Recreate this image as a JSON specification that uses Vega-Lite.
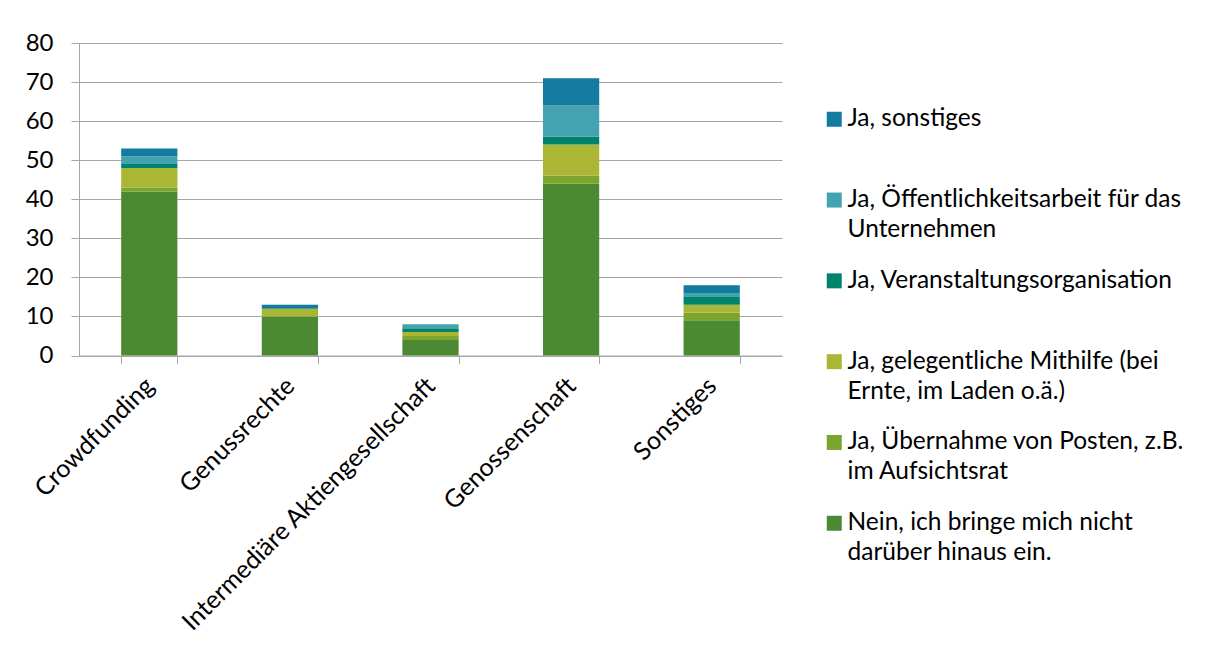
{
  "$schema": "https://vega.github.io/schema/vega-lite/v6.json",
  "width": 703,
  "height": 312.5,
  "autosize": {"type": "none"},
  "padding": {"left": 79, "top": 43, "right": 424, "bottom": 296},
  "background": "white",
  "data": {
    "values": [
      {"kategorie": "Crowdfunding", "antwort": "Nein, ich bringe mich nicht darüber hinaus ein.", "wert": 42},
      {"kategorie": "Crowdfunding", "antwort": "Ja, Übernahme von Posten, z.B. im Aufsichtsrat", "wert": 1},
      {"kategorie": "Crowdfunding", "antwort": "Ja, gelegentliche Mithilfe (bei Ernte, im Laden o.ä.)", "wert": 5},
      {"kategorie": "Crowdfunding", "antwort": "Ja, Veranstaltungsorganisation", "wert": 1},
      {"kategorie": "Crowdfunding", "antwort": "Ja, Öffentlichkeitsarbeit für das Unternehmen", "wert": 2},
      {"kategorie": "Crowdfunding", "antwort": "Ja, sonstiges", "wert": 2},
      {"kategorie": "Genussrechte", "antwort": "Nein, ich bringe mich nicht darüber hinaus ein.", "wert": 10},
      {"kategorie": "Genussrechte", "antwort": "Ja, Übernahme von Posten, z.B. im Aufsichtsrat", "wert": 0},
      {"kategorie": "Genussrechte", "antwort": "Ja, gelegentliche Mithilfe (bei Ernte, im Laden o.ä.)", "wert": 2},
      {"kategorie": "Genussrechte", "antwort": "Ja, Veranstaltungsorganisation", "wert": 0},
      {"kategorie": "Genussrechte", "antwort": "Ja, Öffentlichkeitsarbeit für das Unternehmen", "wert": 0},
      {"kategorie": "Genussrechte", "antwort": "Ja, sonstiges", "wert": 1},
      {"kategorie": "Intermediäre Aktiengesellschaft", "antwort": "Nein, ich bringe mich nicht darüber hinaus ein.", "wert": 4},
      {"kategorie": "Intermediäre Aktiengesellschaft", "antwort": "Ja, Übernahme von Posten, z.B. im Aufsichtsrat", "wert": 1},
      {"kategorie": "Intermediäre Aktiengesellschaft", "antwort": "Ja, gelegentliche Mithilfe (bei Ernte, im Laden o.ä.)", "wert": 1},
      {"kategorie": "Intermediäre Aktiengesellschaft", "antwort": "Ja, Veranstaltungsorganisation", "wert": 1},
      {"kategorie": "Intermediäre Aktiengesellschaft", "antwort": "Ja, Öffentlichkeitsarbeit für das Unternehmen", "wert": 1},
      {"kategorie": "Intermediäre Aktiengesellschaft", "antwort": "Ja, sonstiges", "wert": 0},
      {"kategorie": "Genossenschaft", "antwort": "Nein, ich bringe mich nicht darüber hinaus ein.", "wert": 44},
      {"kategorie": "Genossenschaft", "antwort": "Ja, Übernahme von Posten, z.B. im Aufsichtsrat", "wert": 2},
      {"kategorie": "Genossenschaft", "antwort": "Ja, gelegentliche Mithilfe (bei Ernte, im Laden o.ä.)", "wert": 8},
      {"kategorie": "Genossenschaft", "antwort": "Ja, Veranstaltungsorganisation", "wert": 2},
      {"kategorie": "Genossenschaft", "antwort": "Ja, Öffentlichkeitsarbeit für das Unternehmen", "wert": 8},
      {"kategorie": "Genossenschaft", "antwort": "Ja, sonstiges", "wert": 7},
      {"kategorie": "Sonstiges", "antwort": "Nein, ich bringe mich nicht darüber hinaus ein.", "wert": 9},
      {"kategorie": "Sonstiges", "antwort": "Ja, Übernahme von Posten, z.B. im Aufsichtsrat", "wert": 2},
      {"kategorie": "Sonstiges", "antwort": "Ja, gelegentliche Mithilfe (bei Ernte, im Laden o.ä.)", "wert": 2},
      {"kategorie": "Sonstiges", "antwort": "Ja, Veranstaltungsorganisation", "wert": 2},
      {"kategorie": "Sonstiges", "antwort": "Ja, Öffentlichkeitsarbeit für das Unternehmen", "wert": 1},
      {"kategorie": "Sonstiges", "antwort": "Ja, sonstiges", "wert": 2}
    ]
  },
  "transform": [
    {"calculate": "indexof(['Ja, sonstiges', 'Ja, Öffentlichkeitsarbeit für das Unternehmen', 'Ja, Veranstaltungsorganisation', 'Ja, gelegentliche Mithilfe (bei Ernte, im Laden o.ä.)', 'Ja, Übernahme von Posten, z.B. im Aufsichtsrat', 'Nein, ich bringe mich nicht darüber hinaus ein.'], datum.antwort)", "as": "reihenfolge"}
  ],
  "mark": {"type": "bar"},
  "encoding": {
    "x": {
      "field": "kategorie",
      "type": "nominal",
      "sort": ["Crowdfunding", "Genussrechte", "Intermediäre Aktiengesellschaft", "Genossenschaft", "Sonstiges"],
      "scale": {"paddingInner": 0.6, "paddingOuter": 0.3},
      "axis": {
        "title": null,
        "labelAngle": -45,
        "labelAlign": "right",
        "labelBaseline": "middle",
        "labelPadding": 18,
        "tickBand": "extent",
        "tickSize": 8,
        "tickColor": "#a6a6a6",
        "domainColor": "#a6a6a6",
        "labelFontSize": 25,
        "labelColor": "#000000",
        "labelLimit": 400
      }
    },
    "y": {
      "field": "wert",
      "type": "quantitative",
      "stack": "zero",
      "scale": {"domain": [0, 80], "nice": false},
      "axis": {
        "title": null,
        "values": [0, 10, 20, 30, 40, 50, 60, 70, 80],
        "tickSize": 8,
        "tickColor": "#a6a6a6",
        "domainColor": "#a6a6a6",
        "gridColor": "#a6a6a6",
        "labelFontSize": 24,
        "labelColor": "#000000",
        "labelPadding": 18
      }
    },
    "order": {"field": "reihenfolge", "type": "quantitative", "sort": "descending"},
    "color": {
      "field": "antwort",
      "type": "nominal",
      "sort": [
        "Ja, sonstiges",
        "Ja, Öffentlichkeitsarbeit für das Unternehmen",
        "Ja, Veranstaltungsorganisation",
        "Ja, gelegentliche Mithilfe (bei Ernte, im Laden o.ä.)",
        "Ja, Übernahme von Posten, z.B. im Aufsichtsrat",
        "Nein, ich bringe mich nicht darüber hinaus ein."
      ],
      "scale": {
        "domain": [
          "Ja, sonstiges",
          "Ja, Öffentlichkeitsarbeit für das Unternehmen",
          "Ja, Veranstaltungsorganisation",
          "Ja, gelegentliche Mithilfe (bei Ernte, im Laden o.ä.)",
          "Ja, Übernahme von Posten, z.B. im Aufsichtsrat",
          "Nein, ich bringe mich nicht darüber hinaus ein."
        ],
        "range": ["#137aa0", "#45a3b1", "#00836b", "#aab634", "#7ba52d", "#4b8a33"]
      },
      "legend": {
        "title": null,
        "orient": "none",
        "legendX": 743,
        "legendY": 64,
        "symbolType": "square",
        "symbolSize": 225,
        "symbolStrokeWidth": 0,
        "labelFontSize": 24.5,
        "labelColor": "#000000",
        "labelBaseline": "middle",
        "labelOffset": 1,
        "labelLimit": 500,
        "rowPadding": 25.8,
        "labelExpr": "{'Ja, sonstiges': ['Ja, sonstiges', ''], 'Ja, Öffentlichkeitsarbeit für das Unternehmen': ['Ja, Öffentlichkeitsarbeit für das', 'Unternehmen'], 'Ja, Veranstaltungsorganisation': ['Ja, Veranstaltungsorganisation', ''], 'Ja, gelegentliche Mithilfe (bei Ernte, im Laden o.ä.)': ['Ja, gelegentliche Mithilfe (bei', 'Ernte, im Laden o.ä.)'], 'Ja, Übernahme von Posten, z.B. im Aufsichtsrat': ['Ja, Übernahme von Posten, z.B.', 'im Aufsichtsrat'], 'Nein, ich bringe mich nicht darüber hinaus ein.': ['Nein, ich bringe mich nicht', 'darüber hinaus ein.']}[datum.label]"
      }
    }
  },
  "config": {
    "font": "Lato",
    "view": {"stroke": null},
    "axis": {"gridWidth": 1, "domainWidth": 1, "tickWidth": 1},
    "style": {"guide-label": {"lineHeight": 30}}
  }
}
